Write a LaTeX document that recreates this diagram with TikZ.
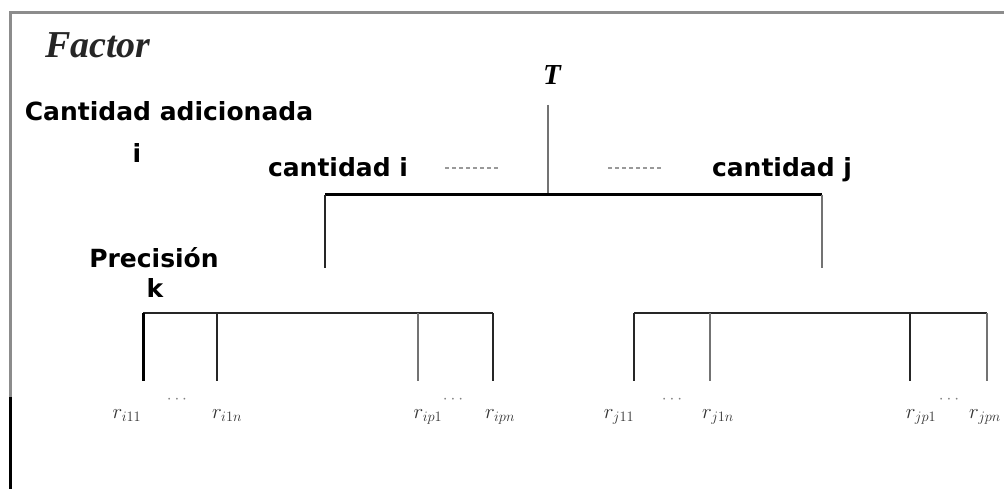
\documentclass[tikz,border=0pt]{standalone}
\usepackage{fontspec}
\setmainfont{Liberation Serif}
\newfontfamily\headsans{DejaVu Sans}
\begin{document}
\begin{tikzpicture}[x=1pt,y=-1pt,
  frame/.style={line width=3pt, draw=black!45},
  tier/.style={font=\headsans\bfseries\fontsize{25}{30}\selectfont, inner sep=0pt, anchor=base},
  leaf/.style={font=\fontsize{22}{26}\selectfont, text=black!80, inner sep=0pt, anchor=base},
  gap/.style={font=\fontsize{17}{19}\selectfont, text=black!50, inner sep=0pt},
  trunk/.style={line width=3pt, draw=black},
  stem/.style={line width=2.4pt, draw=black!55},
  branch/.style={line width=2pt, draw=black!85},
  elide/.style={line width=2pt, draw=black!40, dash pattern=on 4pt off 3pt},
]
\useasboundingbox (0,0) rectangle (1004,489);
\fill[white] (0,0) rectangle (1004,489);

% outer frame
\draw[frame] (10,489) -- (10,13) -- (1004,13);
\draw[line width=3pt, black] (10,397) -- (10,489);

% level headings
\node[anchor=base west, inner sep=0pt, text=black!85,
      font=\bfseries\itshape\fontsize{38}{40}\selectfont] (factor) at (45,58) {Factor};
\node[tier] (amount) at (169,121) {Cantidad adicionada};
\node[tier] (amountidx) at (137,163) {i};
\node[tier] (prec) at (154,268) {Precisión};
\node[tier] (precidx) at (155,297) {k};

% root
\node[anchor=base, inner sep=0pt, font=\bfseries\itshape\fontsize{29}{31}\selectfont] (T) at (552,85) {T};
\coordinate (rtop) at (548,105);
\coordinate (rj) at (548,195);
\draw[stem] (rtop) -- (rj);

% first split
\coordinate (bl) at (325,195);
\coordinate (br) at (822,195);
\coordinate (ai) at (325,268);
\coordinate (aj) at (822,268);
\draw[trunk] (bl) -- (br);
\draw[branch] (bl) -- (ai);
\draw[stem] (br) -- (aj);
\node[tier] (qi) at (338,177) {cantidad i};
\node[tier] (qj) at (782,177) {cantidad j};
\coordinate (ei1) at (445,168); \coordinate (ei2) at (500,168);
\coordinate (ej1) at (608,168); \coordinate (ej2) at (663,168);
\draw[elide] (ei1) -- (ei2);
\draw[elide] (ej1) -- (ej2);

% second split, group i
\coordinate (gi1) at (143,313); \coordinate (gi2) at (217,313);
\coordinate (gi3) at (418,313); \coordinate (gi4) at (493,313);
\coordinate (li1) at (143,381); \coordinate (li2) at (217,381);
\coordinate (li3) at (418,381); \coordinate (li4) at (493,381);
\draw[branch] (gi1) -- (gi4);
\draw[line width=3pt, black] (gi1) -- (li1);
\draw[branch] (gi2) -- (li2);
\draw[stem] (gi3) -- (li3);
\draw[branch] (gi4) -- (li4);

% second split, group j
\coordinate (gj1) at (634,313); \coordinate (gj2) at (710,313);
\coordinate (gj3) at (910,313); \coordinate (gj4) at (987,313);
\coordinate (lj1) at (634,381); \coordinate (lj2) at (710,381);
\coordinate (lj3) at (910,381); \coordinate (lj4) at (987,381);
\draw[branch] (gj1) -- (gj4);
\draw[branch] (gj1) -- (lj1);
\draw[stem] (gj2) -- (lj2);
\draw[branch] (gj3) -- (lj3);
\draw[stem] (gj4) -- (lj4);

% leaves
\node[leaf] (ri11) at (127,418) {$r_{i11}$};
\node[gap]  (di1)  at (177,400) {$\cdots$};
\node[leaf] (ri1n) at (227,418) {$r_{i1n}$};
\node[leaf] (rip1) at (428,418) {$r_{ip1}$};
\node[gap]  (di2)  at (453,400) {$\cdots$};
\node[leaf] (ripn) at (500,418) {$r_{ipn}$};
\node[leaf] (rj11) at (619,418) {$r_{j11}$};
\node[gap]  (dj1)  at (672,400) {$\cdots$};
\node[leaf] (rj1n) at (718,418) {$r_{j1n}$};
\node[leaf] (rjp1) at (921,418) {$r_{jp1}$};
\node[gap]  (dj2)  at (949,400) {$\cdots$};
\node[leaf] (rjpn) at (985,418) {$r_{jpn}$};
\end{tikzpicture}
\end{document}
